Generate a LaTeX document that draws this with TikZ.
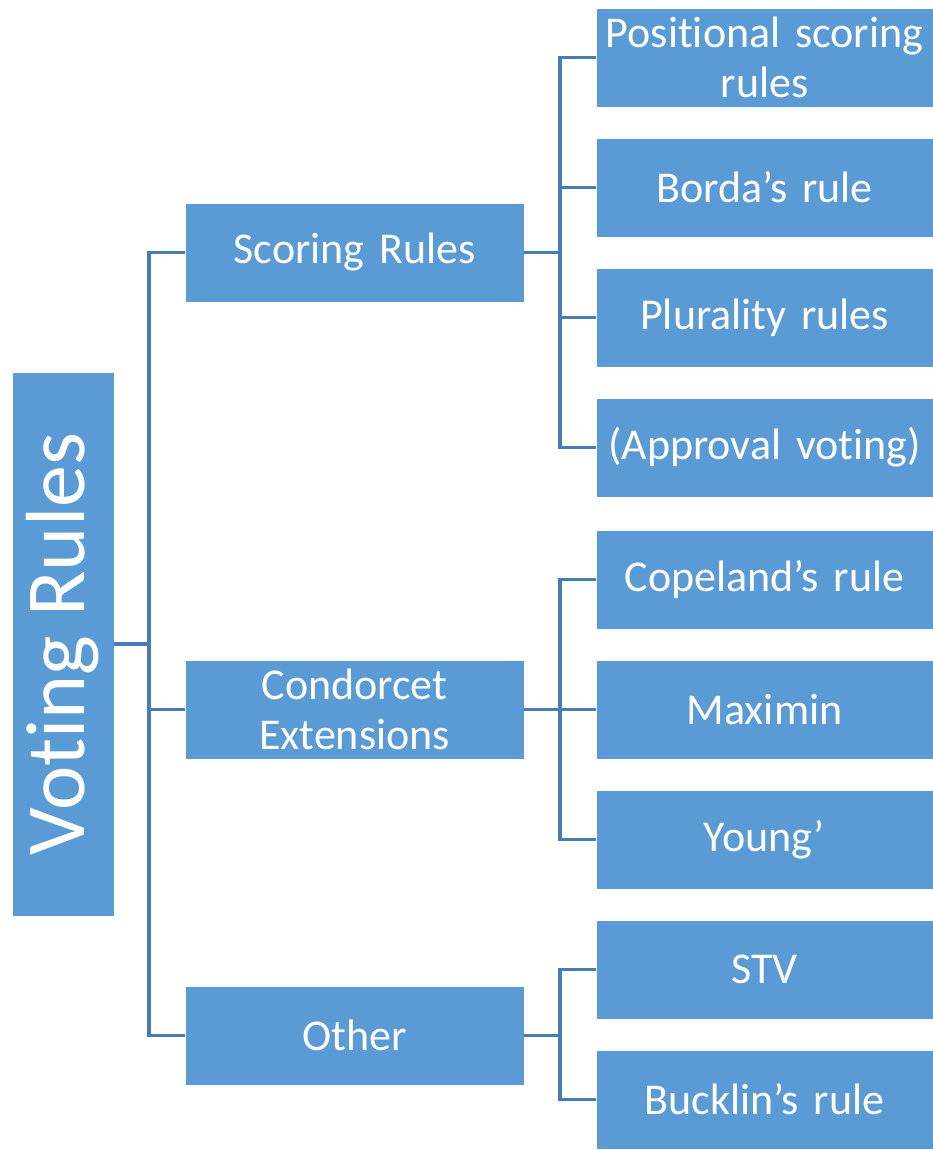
\documentclass[tikz,border=0pt]{standalone}
\usepackage{fontspec}
\setmainfont{Carlito}[Ligatures=NoCommon]
\usepackage{tikz}

\definecolor{boxblue}{RGB}{91,155,213}
\definecolor{lineblue}{RGB}{72,124,180}

\tikzset{
  rulebox/.style={draw=white, line width=0.6, fill=boxblue, text=white, align=center,
    inner sep=0pt, font=\fontsize{44}{50}\selectfont},
  midbox/.style={rulebox, minimum width=339, minimum height=99, text width=335},
  leafbox/.style={rulebox, minimum width=337, minimum height=99, text width=335},
  link/.style={draw=lineblue, line width=3.2pt}
}

\begin{document}
\begin{tikzpicture}[x=1pt,y=1pt,yscale=-1,xscale=1]
\useasboundingbox (0,0) rectangle (933,1150);

% Root Node
\node [rulebox, rotate=90, minimum width=544, minimum height=102, font=\fontsize{84}{84}\selectfont] (root) at (63,644) {Voting Rules};

% Middle Nodes
\node [midbox] (scoring) at (354.5,252.5) {Scoring Rules};
\node [midbox] (condorcet) at (354.5,709.5) {Condorcet\\Extensions};
\node [midbox] (other) at (354.5,1035.5) {Other};

% Leaf Nodes
\node [leafbox] (positional) at (764.5,57.5) {Positional scoring\\rules};
\node [leafbox] (borda) at (764.5,187.5) {Borda’s rule};
\node [leafbox] (plurality) at (764.5,317.5) {Plurality rules};
\node [leafbox] (approval) at (764.5,447.5) {(Approval voting)};
\node [leafbox] (copeland) at (764.5,579.5) {Copeland’s rule};
\node [leafbox] (maximin) at (764.5,709.5) {Maximin};
\node [leafbox] (young) at (764.5,839.5) {Young’};
\node [leafbox] (stv) at (764.5,969.5) {STV};
\node [leafbox] (bucklin) at (764.5,1099.5) {Bucklin’s rule};

% Junctions
\coordinate (jroot) at (149,644);
\coordinate (jscoring) at (560,252.5);
\coordinate (jcondorcet) at (560,709.5);
\coordinate (jother) at (560,1035.5);

%Straight Lines
\draw [link] (root.south) -- (jroot);
\draw [link] (scoring.west) -| (jroot) |- (other.west);
\draw [link] (condorcet.west) -- (condorcet.west -| jroot);
%Straight Lines
\draw [link] (scoring.east) -- (jscoring);
\draw [link] (positional.west) -| (jscoring) |- (approval.west);
\draw [link] (borda.west) -- (borda.west -| jscoring);
\draw [link] (plurality.west) -- (plurality.west -| jscoring);
%Straight Lines
\draw [link] (condorcet.east) -- (jcondorcet);
\draw [link] (copeland.west) -| (jcondorcet) |- (young.west);
\draw [link] (maximin.west) -- (maximin.west -| jcondorcet);
%Straight Lines
\draw [link] (other.east) -- (jother);
\draw [link] (stv.west) -| (jother) |- (bucklin.west);

\end{tikzpicture}
\end{document}
